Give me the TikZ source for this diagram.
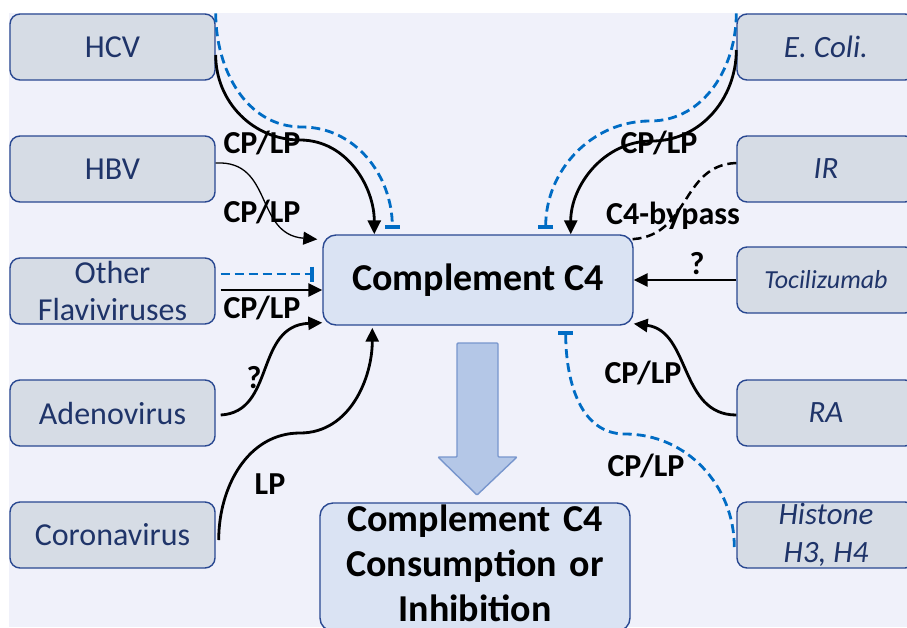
\documentclass[tikz,border=0pt]{standalone}
\usepackage{fontspec}
\setmainfont{Carlito}
\usetikzlibrary{arrows.meta}
\definecolor{bgcol}{RGB}{240,241,250}
\definecolor{boxfill}{RGB}{214,220,229}
\definecolor{boxline}{RGB}{41,72,145}
\definecolor{boxtext}{RGB}{31,52,105}
\definecolor{mainfill}{RGB}{218,227,243}
\definecolor{inhcol}{RGB}{0,108,196}
\definecolor{arrowfill}{RGB}{180,199,231}
\definecolor{arrowline}{RGB}{120,150,205}

\begin{document}
\begin{tikzpicture}[x=1pt, y=-1pt,
    virus/.style={draw=boxline, line width=1.4pt, fill=boxfill, rounded corners=10pt,
        minimum width=205pt, minimum height=66pt, inner sep=0pt, align=center,
        text=boxtext, font=\fontsize{32}{37}\selectfont},
    trigger/.style={virus, minimum width=178pt, font=\fontsize{31}{38}\selectfont\itshape},
    central/.style={draw=boxline, line width=1.4pt, fill=mainfill, rounded corners=13pt,
        minimum width=310pt, inner sep=0pt, align=center,
        font=\bfseries\fontsize{38}{45}\selectfont},
    lbl/.style={inner sep=0pt, font=\bfseries\fontsize{32}{38}\selectfont},
    act/.style={line width=2.8pt, -{Triangle[length=14pt,width=13pt]}},
    inh/.style={draw=inhcol, line width=2.8pt, dash pattern=on 9pt off 5pt,
        -{Bar[width=15pt,line width=4.5pt]}},
    bigarrow/.style={draw=arrowline, fill=arrowfill, line width=1.4pt, rounded corners=1pt}]
    \useasboundingbox (0,0) rectangle (907,627);
    \clip (0,0) rectangle (907,627);
    \fill[bgcol] (9,13) rectangle (907,627);

    % central boxes
    \node[central, minimum height=90pt] (cfour) at (478,280) {Complement C4};
    \node[central, minimum height=128pt, text width=300pt] (consum) at (475,567)
        {Complement C4\\Consumption or\\Inhibition\vspace{8pt}};
    \draw[bigarrow] (457,343) -- (498,343) -- (498,457) -- (517,457) -- (477,495)
        -- (438,457) -- (457,457) -- cycle;

    % viruses on the left
    \node[virus] (hcv) at (112.5,47) {HCV};
    \node[virus] (hbv) at (112.5,169) {HBV};
    \node[virus] (flavi) at (112.5,291) {Other\\Flaviviruses};
    \node[virus] (adeno) at (112.5,413) {Adenovirus};
    \node[virus] (corona) at (112.5,535) {Coronavirus};

    % other triggers on the right
    \node[trigger] (ecoli) at (826,47) {E. Coli.};
    \node[trigger] (ir) at (826,169) {IR};
    \node[trigger, font=\fontsize{26}{30}\selectfont\itshape] (toci) at (826,280) {Tocilizumab};
    \node[trigger] (ra) at (826,413) {RA};
    \node[trigger] (histone) at (826,535) {Histone\\H3, H4};

    % HCV
    \draw[act] ([yshift=-8pt]hcv.east) to[out=-90,in=180] (300,140)
        to[out=0,in=90] ([xshift=52pt]cfour.north west);
    \draw[inh] (hcv.north east) to[out=-90,in=180] (302,127)
        to[out=0,in=90] ([xshift=70pt,yshift=5pt]cfour.north west);
    % HBV
    \draw[act, line width=1.3pt] ([yshift=6pt]hbv.east) .. controls +(58,-3) and +(-63,-5)
        .. ([xshift=-5pt,yshift=-5pt]cfour.north west);
    % Other Flaviviruses
    \draw[inh] ([xshift=5pt,yshift=17pt]flavi.east) -- ([xshift=-8pt,yshift=6pt]cfour.west);
    \draw[act] ([xshift=5pt,yshift=1pt]flavi.east) -- ([yshift=-10pt]cfour.west);
    % Adenovirus
    \draw[act] ([xshift=5pt,yshift=-2pt]adeno.east) .. controls +(55,-3) and +(-68,3)
        .. ([yshift=3pt]cfour.south west);
    % Coronavirus
    \draw[act] ([xshift=3pt,yshift=-5pt]corona.east) to[out=90,in=180] (300,433)
        to[out=0,in=-90] ([xshift=50pt,yshift=-2pt]cfour.south west);

    % E. Coli
    \draw[act] ([yshift=-3pt]ecoli.west) to[out=-90,in=0] (652,141)
        to[out=180,in=90] ([xshift=-63pt]cfour.north east);
    \draw[inh] (ecoli.north west) to[out=-90,in=0] (650,121)
        to[out=180,in=90] ([xshift=-88pt,yshift=5pt]cfour.north east);
    % IR
    \draw[line width=2.5pt, dash pattern=on 9pt off 5pt] ([yshift=6pt]ir.west)
        .. controls +(-57,2) and +(63,0) .. ([xshift=-6pt,yshift=-5pt]cfour.north east);
    % Tocilizumab
    \draw[act] (toci.west) -- (cfour.east);
    % RA
    \draw[act] ([yshift=-2pt]ra.west) .. controls +(-57,0) and +(57,7)
        .. ([yshift=2pt]cfour.south east);
    % Histone
    \draw[inh] ([xshift=-2pt,yshift=-12pt]histone.west) to[out=90,in=0] (625,434)
        to[out=180,in=-90] ([xshift=-68pt,yshift=-5pt]cfour.south east);

    % labels
    \node[lbl] (hcvlbl) at (262,143) {CP/LP};
    \node[lbl] (hbvlbl) at (262,212) {CP/LP};
    \node[lbl] (flavilbl) at (262,308) {CP/LP};
    \node[lbl] (adenolbl) at (254,378) {?};
    \node[lbl] (coronalbl) at (270,484) {LP};
    \node[lbl] (ecolilbl) at (659,143) {CP/LP};
    \node[lbl] (irlbl) at (673,216) {C4-bypass};
    \node[lbl] (tocilbl) at (697,264) {?};
    \node[lbl] (ralbl) at (643,373) {CP/LP};
    \node[lbl] (histonelbl) at (646,466) {CP/LP};
\end{tikzpicture}
\end{document}
